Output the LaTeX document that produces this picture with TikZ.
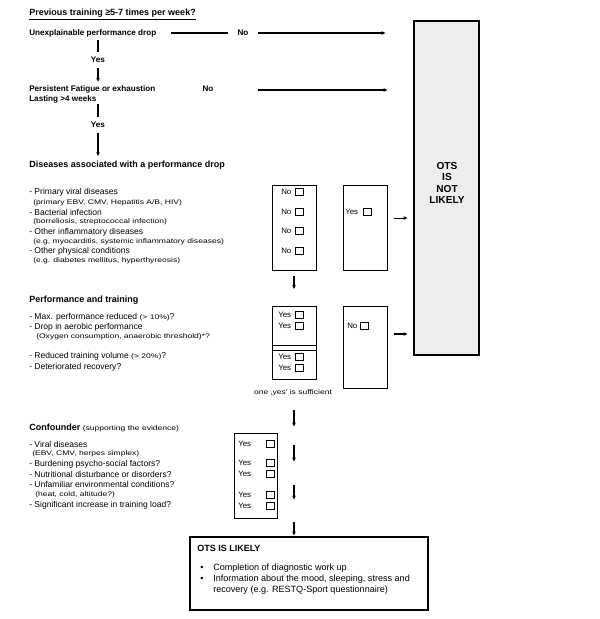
\documentclass[tikz,border=0pt]{standalone}
\usepackage{fontspec}
\setmainfont{Liberation Sans}
\newfontfamily\smallfam[FakeStretch=1.28]{Liberation Sans}
\newcommand{\smtxt}{\smallfam\fontsize{5}{6}\selectfont}
\usetikzlibrary{arrows.meta,calc}
\begin{document}
\begin{tikzpicture}[x=0.75pt,y=-0.75pt,
  arr/.style={-{Latex[length=3.2pt,width=2.8pt]}, line width=0.8pt},
  ln/.style={line width=0.8pt},
  qt/.style={font=\fontsize{6.1}{7.5}\selectfont\bfseries, inner sep=0pt, anchor=west},
  hd/.style={font=\fontsize{6.75}{8}\selectfont\bfseries, inner sep=0pt, anchor=west},
  li/.style={font=\fontsize{6.4}{7.5}\selectfont, inner sep=0pt, anchor=west},
  sm/.style={font=\smtxt, inner sep=0pt, anchor=west},
  yn/.style={font=\fontsize{6.1}{7.5}\selectfont\bfseries, inner sep=0pt},
  bx/.style={draw, line width=0.75pt, inner sep=0pt},
  ck/.style={draw, line width=0.6pt, minimum size=5.6pt, inner sep=0pt},
  lb/.style={font=\fontsize{5.9}{7}\selectfont, inner sep=0pt, anchor=west},
  bt/.style={font=\fontsize{6.8}{8}\selectfont, inner sep=0pt, anchor=west},
  ]
\useasboundingbox (0,0) rectangle (600,619);

% ---- top questions
\node[hd] (title) at (29,15) {\underline{Previous training ≥5-7 times per week?}};
\node[qt] (q1) at (29,33) {Unexplainable performance drop};
\node[yn, minimum width=22.5pt] (no1) at (243,33) {No};
\coordinate (e1) at (386,33);
\draw[ln] ([xshift=10.5pt]q1.east) -- (no1.west);
\draw[arr] (no1.east) -- (e1);

\node[yn, minimum height=12pt] (y1) at (98,60) {Yes};
\draw[ln, shorten <=2.5pt] (y1.north |- q1.south) -- (y1.north);

\node[qt, align=left] (q2) at (29,94) {Persistent Fatigue or exhaustion\\Lasting >4 weeks};
\draw[arr, shorten >=2pt] (y1.south) -- (y1.south |- q2.north);
\node[yn] (no2) at (208,89) {No};
\coordinate (s2) at (258,90);
\coordinate (e2) at (388,90);
\draw[arr] (s2) -- (e2);

\node[yn, minimum height=12pt] (y2) at (98,125) {Yes};
\draw[ln, shorten <=1pt] (y2.north |- q2.south) -- (y2.north);

% ---- diseases
\node[hd] (h1) at (29,165) {Diseases associated with a performance drop};
\draw[arr, shorten >=3pt] (y2.south) -- (y2.south |- h1.north);

\node[li] (d1) at (29,192) {- Primary viral diseases};
\node[sm] (d1s) at (33,203) {(primary EBV, CMV, Hepatitis A/B, HIV)};
\node[li] (d2) at (29,212) {- Bacterial infection};
\node[sm] (d2s) at (33,222) {(borreliosis, streptococcal infection)};
\node[li] (d3) at (29,232) {- Other inflammatory diseases};
\node[sm] (d3s) at (33,242) {(e.g, myocarditis, systemic inflammatory diseases)};
\node[li] (d4) at (29,251) {- Other physical conditions};
\node[sm] (d4s) at (33,261) {(e.g. diabetes mellitus, hyperthyreosis)};

% ---- gray box
\node[draw, line width=1.5pt, fill=black!7, minimum width=48.75pt, minimum height=250.5pt, inner sep=0pt] (gray) at (446.5,188) {};
\node[font=\fontsize{7.6}{8.6}\selectfont\bfseries, align=center, inner sep=0pt] (otsN) at (447,183) {OTS\\IS\\NOT\\LIKELY};

% ---- box 1 and 2
\node[bx, minimum width=33pt, minimum height=63.75pt] (box1) at (294,227.5) {};
\foreach \yy/\nm in {192/a,212/b,231/c,251/d}{
  \node[lb] (no1\nm) at (281,\yy) {No};
  \node[ck] (k1\nm) at (299.5,\yy) {};
}
\node[bx, minimum width=33pt, minimum height=63.75pt] (box2) at (365,227.5) {};
\node[lb] (yes2) at (345,212) {Yes};
\node[ck] (k2) at (367.5,212) {};
\draw[arr, shorten <=4.5pt, shorten >=3.75pt] ([yshift=7.1pt]box2.east) -- ([yshift=7.1pt]box2.east -| gray.west);

% ---- performance
\node[hd] (h2) at (29,300) {Performance and training};
\node[li] (p1) at (29,317) {- Max. performance reduced {\smtxt(> 10\%)}?};
\node[li] (p2) at (29,327) {- Drop in aerobic performance};
\node[sm] (p2s) at (36,337) {(Oxygen consumption, anaerobic threshold)*?};
\node[li] (p3) at (29,356) {- Reduced training volume {\smtxt(> 20\%)}?};
\node[li] (p4) at (29,367) {- Deteriorated recovery?};

\node[bx, minimum width=33pt, minimum height=54.75pt] (box3) at (294,342.5) {};
\draw[line width=0.75pt] (272,345) -- (316,345);
\draw[line width=0.75pt] (272,350) -- (316,350);
\draw[arr, shorten <=3.75pt, shorten >=12pt] (box1.south) -- (box3.north);
\foreach \yy/\nm in {315/a,326/b,357/c,368/d}{
  \node[lb] (yes3\nm) at (278,\yy) {Yes};
  \node[ck] (k3\nm) at (299.5,\yy) {};
}
\node[bx, minimum width=33pt, minimum height=61.5pt] (box4) at (365,347) {};
\node[lb] (no4) at (347,326) {No};
\node[ck] (k4) at (364.5,326) {};
\draw[arr, shorten <=4.5pt, shorten >=3.75pt] ([yshift=9.75pt]box4.east) -- ([yshift=9.75pt]box4.east -| gray.west);

\node[font=\smtxt, inner sep=0pt] (suff) at (293,393) {one ‚yes' is sufficient};

% ---- confounder
\node[hd] (h3) at (29,428) {Confounder {\mdseries\smtxt (supporting the evidence)}};
\node[li] (c1) at (29,444) {- Viral diseases};
\node[sm] (c1s) at (32,454) {(EBV, CMV, herpes simplex)};
\node[li] (c2) at (29,464) {- Burdening psycho-social factors?};
\node[li] (c3) at (29,474) {- Nutritional disturbance or disorders?};
\node[li] (c4) at (29,484) {- Unfamiliar environmental conditions?};
\node[sm] (c4s) at (35,495) {(heat, cold, altitude?)};
\node[li] (c5) at (29,505) {- Significant increase in training load?};

\node[bx, minimum width=32.25pt, minimum height=63.75pt] (box5) at (255.5,475.5) {};
\foreach \yy/\nm in {444/a,463/b,474/c,495/d,506/e}{
  \node[lb] (yes5\nm) at (238,\yy) {Yes};
  \node[ck] (k5\nm) at (270.5,\yy) {};
}

% ---- arrow chain
\coordinate (a1s) at (294,410); \coordinate (a1e) at (294,427);
\coordinate (a2s) at (294,445); \coordinate (a2e) at (294,462);
\coordinate (a3s) at (294,485); \coordinate (a3e) at (294,500);
\coordinate (a4s) at (294,522);
\draw[arr] (a1s) -- (a1e);
\draw[arr] (a2s) -- (a2e);
\draw[arr] (a3s) -- (a3e);

% ---- bottom box
\node[draw, line width=1.6pt, minimum width=178.5pt, minimum height=54.75pt, inner sep=0pt] (otsL) at (309,573.5) {};
\draw[arr] (a4s) -- (a4s |- otsL.north);
\node[hd] (otsLt) at (197,548) {OTS IS LIKELY};
\node[bt] (bu1) at (200,568) {\textbullet};
\node[bt] (bu2) at (200,579) {\textbullet};
\node[bt] (t1) at (213,568) {Completion of diagnostic work up};
\node[bt] (t2) at (213,579) {Information about the mood, sleeping, stress and};
\node[bt] (t3) at (213,590) {recovery (e.g. RESTQ-Sport questionnaire)};
\end{tikzpicture}
\end{document}
